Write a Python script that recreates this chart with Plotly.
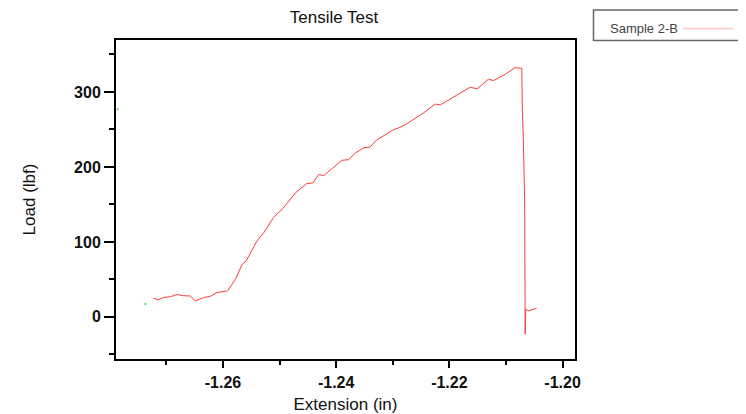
import plotly.graph_objects as go

# Sample 2-B data
extension = [-1.2723, -1.2714, -1.2705, -1.2693, -1.2681, -1.2670, -1.2658, -1.2649,
             -1.2634, -1.2622, -1.2611, -1.2605, -1.2592, -1.2578, -1.2566, -1.2559,
             -1.2540, -1.2528, -1.2511, -1.2493, -1.2472, -1.2452, -1.2441, -1.2431,
             -1.2422, -1.2390, -1.2378, -1.2366, -1.2352, -1.2340, -1.2328, -1.2313,
             -1.2299, -1.2290, -1.2278, -1.2246, -1.2225, -1.2216, -1.2190, -1.2163,
             -1.2151, -1.2131, -1.2122, -1.2101, -1.2084, -1.2072, -1.2071, -1.2069,
             -1.2067, -1.2067, -1.2066, -1.2065, -1.2060, -1.2046]
load = [24.9, 22.6, 25.8, 26.9, 29.8, 28.2, 27.9, 21.3,
        25.8, 27.5, 32.4, 33.2, 34.6, 50.1, 70.1, 74.5,
        101.1, 112.2, 132.2, 145.5, 165.4, 177.8, 178.7, 189.8,
        188.4, 208.8, 209.7, 218.6, 225.3, 226.6, 236.3, 243.0,
        249.6, 251.9, 256.3, 271.8, 283.8, 282.8, 293.9, 306.4,
        304.1, 317.0, 315.2, 323.7, 332.4, 331.6, 273.9, 229.7,
        156.5, 36.8, -23.0, 10.2, 8.0, 11.2]

# stray green points
green_x = [-1.2786, -1.2737]
green_y = [277, 17]

series_name = "Sample 2-B"
x_tick_vals = [-1.26, -1.24, -1.22, -1.20]
x_tick_text = ["-1.26", "-1.24", "-1.22", "-1.20"]
x_range = [-1.2789, -1.1978]
y_range = [-56.2, 369.3]

OFF = 8  # page body margin
W, H = 746 - OFF, 414 - OFF
ML, MR, MT, MB = 116 - OFF, 171, 40 - OFF, 55
PW, PH = W - ML - MR, H - MT - MB

def px(x):
    return (x - OFF - ML) / PW

def py(y):
    return (OFF + H - MB - y) / PH

fig = go.Figure()
fig.add_trace(go.Scatter(x=extension, y=load, mode="lines",
                         line=dict(color="#ff3a3a", width=1),
                         name=series_name, showlegend=False))
fig.add_trace(go.Scatter(x=green_x, y=green_y, mode="markers",
                         marker=dict(color="#33dd33", size=2),
                         showlegend=False, cliponaxis=False))

font = "Liberation Sans, Arial, sans-serif"
axis_common = dict(
    showline=True, linecolor="black", linewidth=2, mirror=True,
    ticks="outside", tickcolor="black", tickwidth=2,
    showgrid=False, zeroline=False, automargin=False,
    tickfont=dict(family=font, size=16, color="#111", weight="bold"),
)

fig.update_layout(
    width=W, height=H,
    margin=dict(l=ML, r=MR, t=MT, b=MB),
    paper_bgcolor="white", plot_bgcolor="white",
    showlegend=False,
    title=dict(text="Tensile Test", x=px(334), xref="paper", xanchor="center",
               y=1 - (17 - OFF) / H, yref="container", yanchor="middle",
               font=dict(family=font, size=17, color="#111")),
    xaxis=dict(range=x_range, tickmode="array", tickvals=x_tick_vals,
               ticktext=x_tick_text, ticklen=7, ticklabelstandoff=1,
               minor=dict(dtick=0.01, tick0=-1.27, ticks="outside", ticklen=4,
                          tickcolor="black", tickwidth=2),
               title=dict(text="Extension (in)", standoff=15,
                          font=dict(family=font, size=17, color="#111")),
               **axis_common),
    yaxis=dict(range=y_range, dtick=100, tick0=0, ticklen=10,
               minor=dict(dtick=50, tick0=0, ticks="outside", ticklen=5,
                          tickcolor="black", tickwidth=2),
               title=dict(text="Load (lbf)", standoff=34,
                          font=dict(family=font, size=17, color="#111")),
               **axis_common),
)

# legend drawn as a box to the right (text then line)
fig.add_shape(type="rect", xref="paper", yref="paper",
              x0=px(593.5), x1=px(760), y0=py(40.5), y1=py(10),
              line=dict(color="#666", width=1.5), fillcolor="white", layer="above")
fig.add_shape(type="line", xref="paper", yref="paper",
              x0=px(683), x1=px(733), y0=py(28.5), y1=py(28.5),
              line=dict(color="#ffc4c4", width=1.5))
fig.add_annotation(text=series_name, xref="paper", yref="paper",
                   x=px(608), y=py(28.5), xanchor="left", yanchor="middle",
                   showarrow=False,
                   font=dict(family=font, size=13, color="#444"))

fig.write_html("out.html")
